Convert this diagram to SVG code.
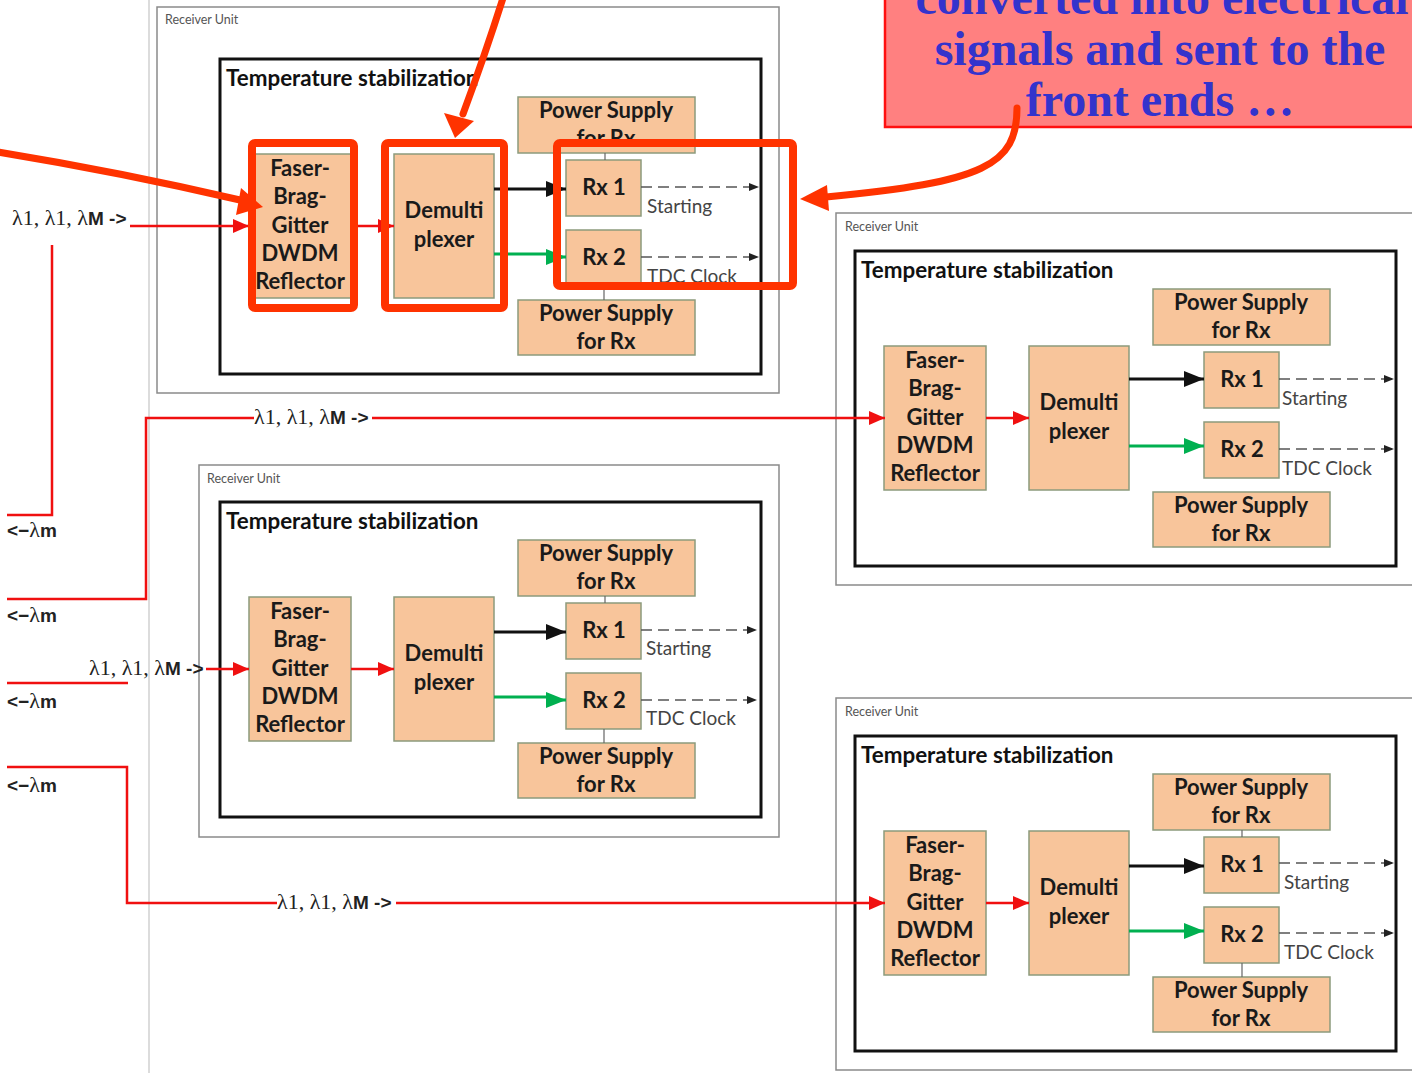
<svg xmlns="http://www.w3.org/2000/svg" width="1412" height="1073" viewBox="0 0 1412 1073">
  <defs>
    <style>
      .box { fill: #F8C59B; stroke: #8C9A7C; stroke-width: 1.5; }
      .ts { fill: none; stroke: #111; stroke-width: 3; }
      .ru { fill: #fff; stroke: #8a8a8a; stroke-width: 1.5; }
      .lbl { font-family: "Lato", "Open Sans", sans-serif; font-weight: bold; font-size: 22px; fill: #1a1a1a; text-anchor: middle; }
      .title { font-family: "Lato", "Open Sans", sans-serif; font-weight: bold; font-size: 22.4px; fill: #111; }
      .rutxt { font-family: "Lato", "Open Sans", sans-serif; font-size: 12.5px; fill: #555; }
      .sig { font-family: "Lato", "Open Sans", sans-serif; font-size: 19px; fill: #444; }
      .lam { font-family: "Liberation Serif", serif; font-size: 22px; fill: #222; }
      .lamb { font-family: "Liberation Sans", sans-serif; font-weight: bold; font-size: 19px; fill: #222; }
      .red { fill: none; stroke: #F01010; stroke-width: 2.5; }
      .blk { fill: none; stroke: #111; stroke-width: 3; }
      .grn { fill: none; stroke: #00B050; stroke-width: 3; }
      .dash { fill: none; stroke: #555; stroke-width: 1.5; stroke-dasharray: 11 6; }
      .thin { fill: none; stroke: #666; stroke-width: 1.2; }
      .hl { fill: none; stroke: #FF3300; stroke-width: 8; stroke-linejoin: round; }
      .hlArrow { fill: none; stroke: #FF3300; stroke-width: 7; stroke-linecap: round; }
      .callout { font-family: "Liberation Serif", serif; font-weight: bold; font-size: 48px; fill: #3333CC; text-anchor: middle; }
    </style>
    <marker id="arrRed" markerUnits="userSpaceOnUse" markerWidth="16" markerHeight="14" refX="16" refY="7" orient="auto">
      <path d="M0,0 L16,7 L0,14 z" fill="#F01010"/>
    </marker>
    <marker id="arrBlk" markerUnits="userSpaceOnUse" markerWidth="20" markerHeight="16" refX="20" refY="8" orient="auto">
      <path d="M0,0 L20,8 L0,16 z" fill="#111"/>
    </marker>
    <marker id="arrGrn" markerUnits="userSpaceOnUse" markerWidth="20" markerHeight="16" refX="20" refY="8" orient="auto">
      <path d="M0,0 L20,8 L0,16 z" fill="#00B050"/>
    </marker>
    <marker id="arrDash" markerUnits="userSpaceOnUse" markerWidth="10" markerHeight="8" refX="10" refY="4" orient="auto">
      <path d="M0,0 L10,4 L0,8 z" fill="#222"/>
    </marker>
  </defs>

  <rect x="0" y="0" width="1412" height="1073" fill="#fff"/>

  <!-- page margin line -->
  <line x1="149" y1="0" x2="149" y2="1073" stroke="#dcdcdc" stroke-width="2"/>

  <!-- Receiver unit frames -->
  <g id="frames">
    <rect class="ru" x="157" y="7" width="622" height="386"/>
    <text class="rutxt" x="165" y="24">Receiver Unit</text>
    <rect class="ru" x="836" y="213" width="590" height="372"/>
    <text class="rutxt" x="845" y="231">Receiver Unit</text>
    <rect class="ru" x="199" y="465" width="580" height="372"/>
    <text class="rutxt" x="207" y="483">Receiver Unit</text>
    <rect class="ru" x="836" y="698" width="590" height="372"/>
    <text class="rutxt" x="845" y="716">Receiver Unit</text>
  </g>

  <!-- Unit A (top left) -->
  <g id="unitA" transform="translate(0,-443)">
    <g id="a-ts"><rect class="ts" x="220" y="502" width="541" height="315"/><text class="title" x="226" y="529">Temperature stabilization</text></g>
    <g id="a-faser"><rect class="box" x="249" y="597" width="102" height="144"/>
      <text class="lbl" x="300" y="619">Faser-</text><text class="lbl" x="300" y="647">Brag-</text><text class="lbl" x="300" y="676">Gitter</text><text class="lbl" x="300" y="704">DWDM</text><text class="lbl" x="300" y="732">Reflector</text></g>
    <g id="a-demux"><rect class="box" x="394" y="597" width="100" height="144"/>
      <text class="lbl" x="444" y="661">Demulti</text><text class="lbl" x="444" y="690">plexer</text></g>
    <g id="a-ps1"><rect class="box" x="518" y="540" width="177" height="56"/>
      <text class="lbl" x="606" y="561">Power Supply</text><text class="lbl" x="606" y="589">for Rx</text></g>
    <g id="a-rx1"><rect class="box" x="566" y="603" width="75" height="56"/><text class="lbl" x="604" y="638">Rx 1</text></g>
    <g id="a-rx2"><rect class="box" x="566" y="673" width="75" height="56"/><text class="lbl" x="604" y="708">Rx 2</text></g>
    <g id="a-ps2"><rect class="box" x="518" y="743" width="177" height="55"/>
      <text class="lbl" x="606" y="764">Power Supply</text><text class="lbl" x="606" y="792">for Rx</text></g>
    <text class="sig" x="647" y="656">Starting</text>
    <text class="sig" x="647" y="726">TDC Clock</text>
  </g>

  <!-- Unit B (middle right) -->
  <g id="unitB" transform="translate(635,-251)">
    <g id="b-ts"><rect class="ts" x="220" y="502" width="541" height="315"/><text class="title" x="226" y="529">Temperature stabilization</text></g>
    <g id="b-faser"><rect class="box" x="249" y="597" width="102" height="144"/>
      <text class="lbl" x="300" y="619">Faser-</text><text class="lbl" x="300" y="647">Brag-</text><text class="lbl" x="300" y="676">Gitter</text><text class="lbl" x="300" y="704">DWDM</text><text class="lbl" x="300" y="732">Reflector</text></g>
    <g id="b-demux"><rect class="box" x="394" y="597" width="100" height="144"/>
      <text class="lbl" x="444" y="661">Demulti</text><text class="lbl" x="444" y="690">plexer</text></g>
    <g id="b-ps1"><rect class="box" x="518" y="540" width="177" height="56"/>
      <text class="lbl" x="606" y="561">Power Supply</text><text class="lbl" x="606" y="589">for Rx</text></g>
    <g id="b-rx1"><rect class="box" x="569" y="603" width="75" height="56"/><text class="lbl" x="607" y="638">Rx 1</text></g>
    <g id="b-rx2"><rect class="box" x="569" y="673" width="75" height="56"/><text class="lbl" x="607" y="708">Rx 2</text></g>
    <g id="b-ps2"><rect class="box" x="518" y="743" width="177" height="55"/>
      <text class="lbl" x="606" y="764">Power Supply</text><text class="lbl" x="606" y="792">for Rx</text></g>
    <text class="sig" x="647" y="656">Starting</text>
    <text class="sig" x="647" y="726">TDC Clock</text>
  </g>

  <!-- Unit C (lower left) -->
  <g id="unitC">
    <g id="c-ts"><rect class="ts" x="220" y="502" width="541" height="315"/><text class="title" x="226" y="529">Temperature stabilization</text></g>
    <g id="c-faser"><rect class="box" x="249" y="597" width="102" height="144"/>
      <text class="lbl" x="300" y="619">Faser-</text><text class="lbl" x="300" y="647">Brag-</text><text class="lbl" x="300" y="676">Gitter</text><text class="lbl" x="300" y="704">DWDM</text><text class="lbl" x="300" y="732">Reflector</text></g>
    <g id="c-demux"><rect class="box" x="394" y="597" width="100" height="144"/>
      <text class="lbl" x="444" y="661">Demulti</text><text class="lbl" x="444" y="690">plexer</text></g>
    <g id="c-ps1"><rect class="box" x="518" y="540" width="177" height="56"/>
      <text class="lbl" x="606" y="561">Power Supply</text><text class="lbl" x="606" y="589">for Rx</text></g>
    <g id="c-rx1"><rect class="box" x="566" y="603" width="75" height="56"/><text class="lbl" x="604" y="638">Rx 1</text></g>
    <g id="c-rx2"><rect class="box" x="566" y="673" width="75" height="56"/><text class="lbl" x="604" y="708">Rx 2</text></g>
    <g id="c-ps2"><rect class="box" x="518" y="743" width="177" height="55"/>
      <text class="lbl" x="606" y="764">Power Supply</text><text class="lbl" x="606" y="792">for Rx</text></g>
    <text class="sig" x="646" y="655">Starting</text>
    <text class="sig" x="646" y="725">TDC Clock</text>
  </g>

  <!-- Unit D (bottom right) -->
  <g id="unitD" transform="translate(635,234)">
    <g id="d-ts"><rect class="ts" x="220" y="502" width="541" height="315"/><text class="title" x="226" y="529">Temperature stabilization</text></g>
    <g id="d-faser"><rect class="box" x="249" y="597" width="102" height="144"/>
      <text class="lbl" x="300" y="619">Faser-</text><text class="lbl" x="300" y="647">Brag-</text><text class="lbl" x="300" y="676">Gitter</text><text class="lbl" x="300" y="704">DWDM</text><text class="lbl" x="300" y="732">Reflector</text></g>
    <g id="d-demux"><rect class="box" x="394" y="597" width="100" height="144"/>
      <text class="lbl" x="444" y="661">Demulti</text><text class="lbl" x="444" y="690">plexer</text></g>
    <g id="d-ps1"><rect class="box" x="518" y="540" width="177" height="56"/>
      <text class="lbl" x="606" y="561">Power Supply</text><text class="lbl" x="606" y="589">for Rx</text></g>
    <g id="d-rx1"><rect class="box" x="569" y="603" width="75" height="56"/><text class="lbl" x="607" y="638">Rx 1</text></g>
    <g id="d-rx2"><rect class="box" x="569" y="673" width="75" height="56"/><text class="lbl" x="607" y="708">Rx 2</text></g>
    <g id="d-ps2"><rect class="box" x="518" y="743" width="177" height="55"/>
      <text class="lbl" x="606" y="764">Power Supply</text><text class="lbl" x="606" y="792">for Rx</text></g>
    <text class="sig" x="649" y="655">Starting</text>
    <text class="sig" x="649" y="725">TDC Clock</text>
  </g>

  <!-- Connectors -->
  <g id="connectors">
    <!-- internal links, left-column units -->
    <g transform="translate(0,-443)">
      <path class="red" d="M351,669 H394" marker-end="url(#arrRed)"/>
      <path class="blk" d="M494,632 H566" marker-end="url(#arrBlk)"/>
      <path class="grn" d="M494,697 H552 V700 H566" marker-end="url(#arrGrn)"/>
      <path class="dash" d="M641,630 H759" marker-end="url(#arrDash)"/>
      <path class="dash" d="M641,700 H759" marker-end="url(#arrDash)"/>
      <path class="thin" d="M605,596 V603 M604,729 V743"/>
    </g>
    <g>
      <path class="red" d="M351,669 H394" marker-end="url(#arrRed)"/>
      <path class="blk" d="M494,632 H566" marker-end="url(#arrBlk)"/>
      <path class="grn" d="M494,697 H552 V700 H566" marker-end="url(#arrGrn)"/>
      <path class="dash" d="M641,630 H757" marker-end="url(#arrDash)"/>
      <path class="dash" d="M641,700 H757" marker-end="url(#arrDash)"/>
      <path class="thin" d="M605,596 V603 M604,729 V743"/>
    </g>
    <!-- internal links, right-column units -->
    <g transform="translate(635,-251)">
      <path class="red" d="M351,669 H394" marker-end="url(#arrRed)"/>
      <path class="blk" d="M494,630 H569" marker-end="url(#arrBlk)"/>
      <path class="grn" d="M494,697 H569" marker-end="url(#arrGrn)"/>
      <path class="dash" d="M644,630 H759" marker-end="url(#arrDash)"/>
      <path class="dash" d="M644,700 H759" marker-end="url(#arrDash)"/>
    </g>
    <g transform="translate(635,234)">
      <path class="red" d="M351,669 H394" marker-end="url(#arrRed)"/>
      <path class="blk" d="M494,632 H569" marker-end="url(#arrBlk)"/>
      <path class="grn" d="M494,697 H569" marker-end="url(#arrGrn)"/>
      <path class="dash" d="M644,629 H759" marker-end="url(#arrDash)"/>
      <path class="dash" d="M644,699 H759" marker-end="url(#arrDash)"/>
      <path class="thin" d="M607,596 V603 M607,729 V743"/>
    </g>

    <!-- fibre feed lines from the left -->
    <path class="red" d="M130,226 H249" marker-end="url(#arrRed)"/>
    <path class="red" d="M52,245 V515 H7"/>
    <path class="red" d="M7,599 H146 V418 H254"/>
    <path class="red" d="M372,418 H885" marker-end="url(#arrRed)"/>
    <path class="red" d="M7,683 H128"/>
    <path class="red" d="M206,669 H249" marker-end="url(#arrRed)"/>
    <path class="red" d="M7,767 H127 V903 H277"/>
    <path class="red" d="M396,903 H885" marker-end="url(#arrRed)"/>
  </g>

  <!-- wavelength labels -->
  <g id="labels">
    <text x="12" y="225"><tspan class="lam">λ1, λ1, λ</tspan><tspan class="lamb">M -&gt;</tspan></text>
    <text x="254" y="424"><tspan class="lam">λ1, λ1, λ</tspan><tspan class="lamb">M -&gt;</tspan></text>
    <text x="89" y="675"><tspan class="lam">λ1, λ1, λ</tspan><tspan class="lamb">M -&gt;</tspan></text>
    <text x="277" y="909"><tspan class="lam">λ1, λ1, λ</tspan><tspan class="lamb">M -&gt;</tspan></text>
    <text x="7" y="537"><tspan class="lamb" font-weight="normal">&lt;−</tspan><tspan class="lam">λ</tspan><tspan class="lamb">m</tspan></text>
    <text x="7" y="622"><tspan class="lamb" font-weight="normal">&lt;−</tspan><tspan class="lam">λ</tspan><tspan class="lamb">m</tspan></text>
    <text x="7" y="708"><tspan class="lamb" font-weight="normal">&lt;−</tspan><tspan class="lam">λ</tspan><tspan class="lamb">m</tspan></text>
    <text x="7" y="792"><tspan class="lamb" font-weight="normal">&lt;−</tspan><tspan class="lam">λ</tspan><tspan class="lamb">m</tspan></text>
  </g>

  <!-- callout note -->
  <g id="note">
    <rect x="885" y="-10" width="540" height="137" fill="#FF8080" stroke="#FF1010" stroke-width="2.5"/>
    <text class="callout" x="1162" y="14">converted into electrical</text>
    <text class="callout" x="1160" y="65">signals and sent to the</text>
    <text class="callout" x="1160" y="116">front ends …</text>
  </g>

  <!-- emphasis frames and pointers -->
  <g id="highlights">
    <rect class="hl" x="252" y="143" width="102" height="165" rx="3"/>
    <rect class="hl" x="385" y="143" width="119" height="165" rx="3"/>
    <rect class="hl" x="557" y="143" width="236" height="143" rx="3"/>
    <path class="hlArrow" d="M-2,152 Q120,172 240,200"/>
    <polygon points="263,207 241,188 236,215" fill="#FF3300"/>
    <path class="hlArrow" d="M503,-2 Q486,52 463,114"/>
    <polygon points="444,113 474,121 455,138" fill="#FF3300"/>
    <path class="hlArrow" d="M1017,108 C1017,165 985,182 826,197"/>
    <polygon points="800,199 827,185 829,211" fill="#FF3300"/>
  </g>
</svg>
